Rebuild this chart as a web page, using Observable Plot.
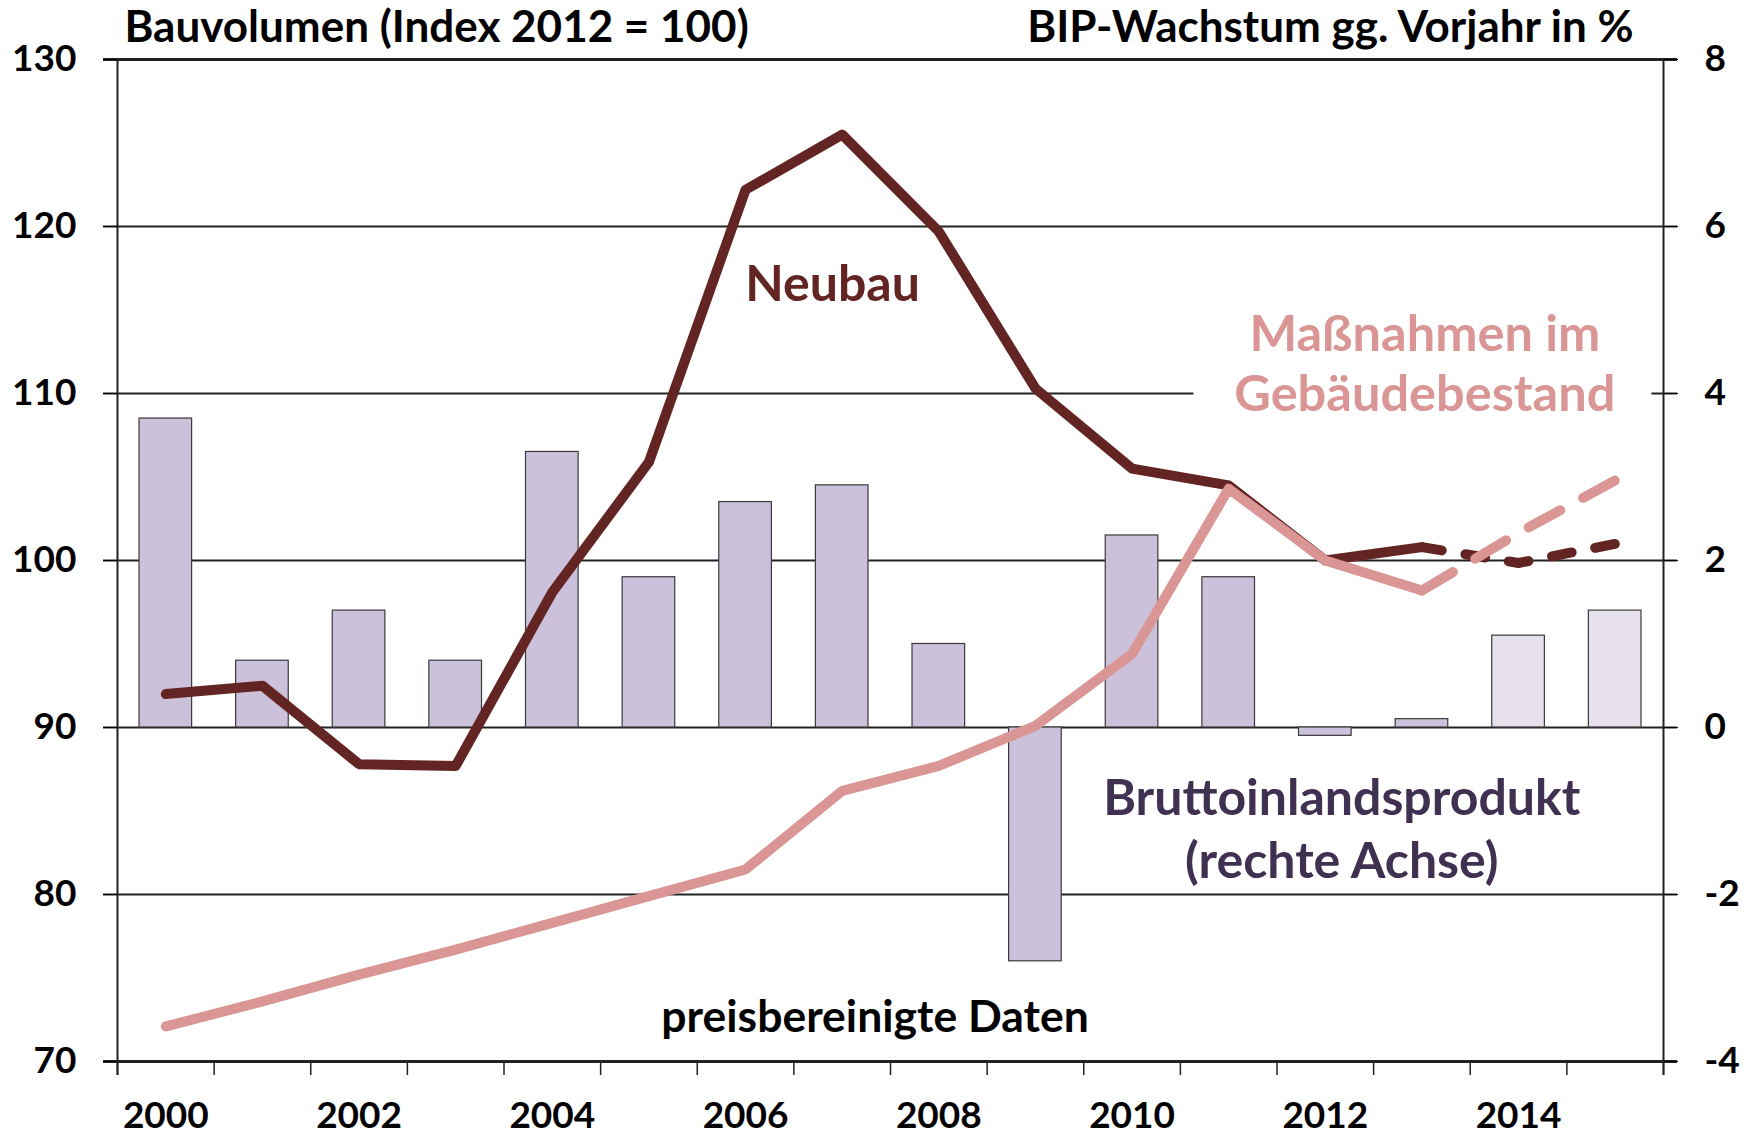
<!DOCTYPE html>
<html>
<head>
<meta charset="utf-8">
<script src="https://cdn.jsdelivr.net/npm/d3@7"></script>
<script src="https://cdn.jsdelivr.net/npm/@observablehq/plot@0.6"></script>
<style>
  html, body { margin: 0; padding: 0; background: #fff; }
  #chart { width: 1752px; height: 1136px; }
</style>
</head>
<body>
<div id="chart"></div>
<script>
// ---- Data ----
const years = [2000, 2001, 2002, 2003, 2004, 2005, 2006, 2007, 2008, 2009, 2010, 2011, 2012, 2013, 2014, 2015];
// Bauvolumen Neubau (Index 2012 = 100, left axis)
const neubau = [92.0, 92.5, 87.8, 87.7, 98.1, 105.9, 122.2, 125.5, 119.7, 110.3, 105.5, 104.5, 100.0, 100.8, 99.85, 101.0];
// Bauvolumen Maßnahmen im Gebäudebestand (Index 2012 = 100, left axis)
const bestand = [72.1, 73.6, 75.2, 76.7, 78.3, 79.9, 81.5, 86.2, 87.7, 90.1, 94.4, 104.3, 100.0, 98.2, 101.65, 104.8];
// BIP-Wachstum gg. Vorjahr in % (right axis)
const bip = [3.7, 0.8, 1.4, 0.8, 3.3, 1.8, 2.7, 2.9, 1.0, -2.8, 2.3, 1.8, -0.1, 0.1, 1.1, 1.4];
const lineForecastFrom = 2013;   // lines dashed from this year on
const barForecastFrom = 2014;    // lighter bars from this year on

const leftTicks = [70, 80, 90, 100, 110, 120, 130];
const rightTicks = [-4, -2, 0, 2, 4, 6, 8];
const yearLabels = [2000, 2002, 2004, 2006, 2008, 2010, 2012, 2014];

const titleLeft = "Bauvolumen (Index 2012 = 100)";
const titleRight = "BIP-Wachstum gg. Vorjahr in %";
const labelNeubau = "Neubau";
const labelBestand = "Maßnahmen im\nGebäudebestand";
const labelBip = "Bruttoinlandsprodukt\n(rechte Achse)";
const labelNote = "preisbereinigte Daten";

// ---- Helpers ----
// right axis (-4..8) mapped onto left axis (70..130): 0 -> 90, 2 -> 100
const toLeft = v => 90 + v * 5;
const fromLeft = v => (v - 90) / 5;

const data = years.map((year, i) => ({year, neubau: neubau[i], bestand: bestand[i], bip: bip[i]}));
const solid = data.filter(d => d.year <= lineForecastFrom);
const dashed = data.filter(d => d.year >= lineForecastFrom);
const boundaries = years.map(y => y - 0.5).concat([years[years.length - 1] + 0.5]);

const FONT = "Lato, 'Open Sans', 'DejaVu Sans', sans-serif";
const GRID = "#222";
const C_NEU = "#632523";
const C_BEST = "#d99694";
const C_BIP_TXT = "#403152";
const LW = 10;

const chart = Plot.plot({
  width: 1752,
  height: 1136,
  marginLeft: 117,
  marginRight: 89,
  marginTop: 59,
  marginBottom: 75,
  style: {fontFamily: FONT, fontWeight: 700, background: "#fff", color: "#000", overflow: "visible"},
  x: {type: "linear", domain: [boundaries[0], boundaries[boundaries.length - 1]], axis: null},
  y: {type: "linear", domain: [70, 130], axis: null},
  marks: [
    // horizontal gridlines (extend over the tick marks on both sides)
    Plot.ruleY(leftTicks.filter(t => t !== 70 && t !== 130), {stroke: GRID, strokeWidth: 2, insetLeft: -14, insetRight: -14}),
    Plot.ruleY([70, 130], {stroke: GRID, strokeWidth: 3, insetLeft: -14, insetRight: -14}),
    // white background of the "Maßnahmen im Gebäudebestand" label
    Plot.rect([{x1: 2010.64, x2: 2015.38, y1: 108.3, y2: 111.7}], {x1: "x1", x2: "x2", y1: "y1", y2: "y2", fill: "#fff"}),
    // BIP bars (right axis)
    Plot.rectY(data, {
      x1: d => d.year - 0.5,
      x2: d => d.year + 0.5,
      y1: () => toLeft(0),
      y2: d => toLeft(d.bip),
      insetLeft: 22,
      insetRight: 22,
      fill: d => d.year >= barForecastFrom ? "#e5e0ec" : "#ccc1da",
      stroke: "#3a3a3a",
      strokeWidth: 1.2
    }),
    // vertical axis lines
    Plot.ruleX([boundaries[0], boundaries[boundaries.length - 1]], {stroke: GRID, strokeWidth: 2, insetBottom: -14}),
    // x tick marks at year boundaries
    Plot.axisX({ticks: boundaries, tickSize: 14, tickFormat: () => "", stroke: GRID, strokeWidth: 1.5}),
    // year labels
    Plot.axisX({ticks: yearLabels, tickSize: 0, tickPadding: 40, fontSize: 37, fontWeight: 700, tickFormat: d => String(d)}),
    // left axis
    Plot.axisY({anchor: "left", ticks: leftTicks, tickSize: 14, tickPadding: 27, fontSize: 37, fontWeight: 700, tickFormat: d => String(d)}),
    // right axis
    Plot.axisY({anchor: "right", ticks: rightTicks.map(toLeft), tickSize: 14, tickPadding: 27, fontSize: 37, fontWeight: 700, tickFormat: d => String(fromLeft(d))}),
    // Neubau line
    Plot.line(solid, {x: "year", y: "neubau", stroke: C_NEU, strokeWidth: LW, strokeLinecap: "round", strokeLinejoin: "round"}),
    Plot.line(dashed, {x: "year", y: "neubau", stroke: C_NEU, strokeWidth: LW, strokeLinecap: "round", strokeLinejoin: "round", strokeDasharray: "20 24"}),
    // Maßnahmen im Gebäudebestand line
    Plot.line(solid, {x: "year", y: "bestand", stroke: C_BEST, strokeWidth: LW, strokeLinecap: "round", strokeLinejoin: "round"}),
    Plot.line(dashed, {x: "year", y: "bestand", stroke: C_BEST, strokeWidth: LW, strokeLinecap: "round", strokeLinejoin: "round", strokeDasharray: "36 26"}),
    // titles above the frame
    Plot.text([titleLeft], {text: d => d, frameAnchor: "top-left", dx: 7, dy: -32, textAnchor: "start", lineAnchor: "middle", fontSize: 44, fontWeight: 700, fill: "#000"}),
    Plot.text([titleRight], {text: d => d, frameAnchor: "top-right", dx: -30, dy: -32, textAnchor: "end", lineAnchor: "middle", fontSize: 44, fontWeight: 700, fill: "#000"}),
    // series labels
    Plot.text([labelNeubau], {text: d => d, x: 2006.9, y: 116.5, fontSize: 50, fontWeight: 700, fill: C_NEU, lineAnchor: "middle"}),
    Plot.text([labelBestand], {text: d => d, x: 2013.03, y: 111.9, fontSize: 50.5, fontWeight: 700, fill: C_BEST, lineAnchor: "middle", lineHeight: 1.18}),
    Plot.text([labelBip], {text: d => d, x: 2012.17, y: 84.1, fontSize: 50, fontWeight: 700, fill: C_BIP_TXT, lineAnchor: "middle", lineHeight: 1.28}),
    Plot.text([labelNote], {text: d => d, x: 2007.34, y: 72.6, fontSize: 44.5, fontWeight: 700, fill: "#000", lineAnchor: "middle"})
  ]
});

document.getElementById("chart").appendChild(chart);
</script>
</body>
</html>
